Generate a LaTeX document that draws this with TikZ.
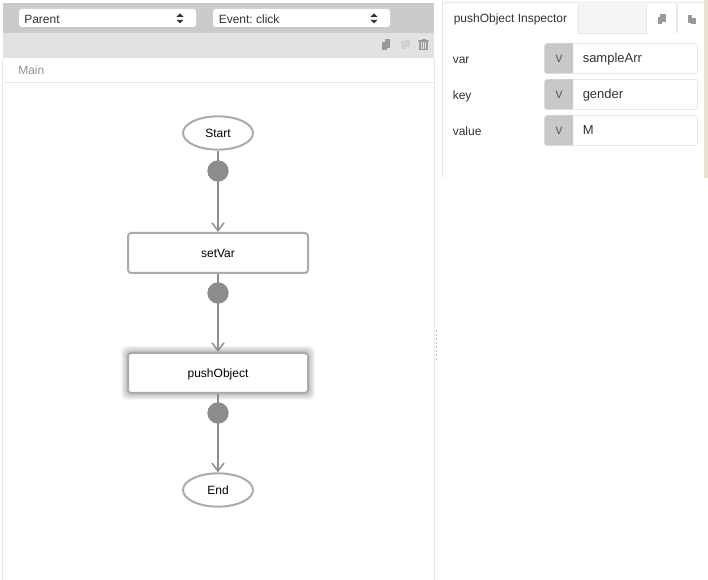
\documentclass[tikz,border=0pt]{standalone}
\usepackage{fontspec}
\setmainfont{Liberation Sans}
\frenchspacing
\usetikzlibrary{arrows.meta,shapes.geometric}
\definecolor{barA}{HTML}{CBCBCB}
\definecolor{barB}{HTML}{E2E2E2}
\definecolor{edgeL}{HTML}{E8E8E8}
\definecolor{flow}{HTML}{8E8E8E}
\definecolor{nodeL}{HTML}{ABABAB}
\definecolor{dotc}{HTML}{8C8C8C}
\definecolor{txtc}{HTML}{333333}
\definecolor{vbox}{HTML}{C8C8C8}
\definecolor{beige}{HTML}{E7E1D0}
\definecolor{iconc}{HTML}{999999}
\tikzset{
  x=0.75pt,y=-0.75pt,
  every node/.style={font=\fontsize{9}{11}\selectfont,text=txtc,inner sep=0pt,text height=8pt,text depth=1.8pt},
  selbox/.style={fill=white,rounded corners=2pt,draw=none},
  flowbox/.style={draw=nodeL,line width=1.5pt,fill=white,rounded corners=2.4pt,minimum width=135pt,minimum height=30pt,text=black},
  flowoval/.style={ellipse,draw=nodeL,line width=1.5pt,fill=white,minimum width=52.5pt,minimum height=25pt,text=black},
  dotn/.style={circle,fill=dotc,minimum size=16pt,text height=,text depth=},
  flowline/.style={draw=flow,line width=1.4pt,-{Straight Barb[length=6pt,width=9pt,line width=1.1pt]}},
  fieldbox/.style={draw=edgeL,line width=0.6pt,fill=white,rounded corners=2pt},
  lab/.style={anchor=west},
}
\begin{document}
\begin{tikzpicture}
\useasboundingbox (0,0) rectangle (708,580);
\fill[white] (0,0) rectangle (708,580);
% left panel
\fill[barA] (3,3) rectangle (434,33);
\fill[barB] (3,33) rectangle (434,58);
\draw[edgeL,line width=0.75pt] (3,82.5) -- (434,82.5);
\draw[edgeL,line width=0.9pt] (2.5,58) -- (2.5,580);
\draw[edgeL,line width=0.75pt] (434.5,58) -- (434.5,580);
% selects
\fill[selbox] (19,9) rectangle (196,27);
\fill[selbox] (213,9) rectangle (390,27);
\node[lab] (parent) at (24,19) {Parent};
\node[lab] (event) at (218.5,19) {Event: click};
\foreach \cx in {180,374}{
  \fill[black!80] (\cx-3.5,17) -- (\cx+3.5,17) -- (\cx,13.5) -- cycle;
  \fill[black!80] (\cx-3.5,20) -- (\cx+3.5,20) -- (\cx,23.5) -- cycle;
}
% toolbar icons
\fill[iconc] (381.5,42) rectangle (387,50);
\fill[iconc] (385,39.5) rectangle (390,48);
\fill[black!18] (401,41.5) rectangle (406,49.5);
\fill[black!18] (404,40) rectangle (409.5,47);
\fill[iconc] (419,41.5) rectangle (428,50);
\fill[iconc] (418,40) rectangle (429,41);
\fill[iconc] (421.5,39) rectangle (425.5,40);
\draw[barB,line width=0.4pt] (421.5,42.5) -- (421.5,49) (423.5,42.5) -- (423.5,49) (425.5,42.5) -- (425.5,49);
\node[lab,text=black!42] (mainlab) at (18,70) {Main};
% splitter dots
\foreach \yy in {330,334,...,358}{\fill[black!25] (436.3,\yy) rectangle (437.3,\yy+2);}
% flow nodes
\node[flowoval] (start) at (218,133) {Start};
\node[flowbox] (setvar) at (218,253) {setVar};
% glow
\foreach \g in {7,6,5,4,3,2,1}{
  \fill[black,opacity=0.04,rounded corners=4pt] (128-\g,353-\g) rectangle (308+\g,393+\g);
}
\node[flowbox] (pushobj) at (218,373) {pushObject};
\node[flowoval] (endn) at (218,490) {End};
\draw[flowline] (start) -- (setvar);
\draw[flowline] (setvar) -- (pushobj);
\draw[flowline] (pushobj) -- (endn);
\node[dotn] (d1) at (218,171) {};
\node[dotn] (d2) at (218,293) {};
\node[dotn] (d3) at (218,413) {};
% inspector
\fill[beige] (704,0) rectangle (708,178);
\fill[black!4] (443,1) rectangle (704,33);
\draw[edgeL,line width=0.75pt] (442.5,0) -- (442.5,178);
\fill[white] (443,4) rectangle (578,33);
\fill[white] (647,4) rectangle (676,33);
\fill[white] (678,4) rectangle (704,33);
\fill[white] (443,33) rectangle (704,178);
\draw[edgeL,line width=0.6pt] (578.5,4) -- (578.5,33) -- (646.5,33) -- (646.5,4);
\draw[edgeL,line width=0.6pt] (676.5,4) -- (676.5,33) (677.5,4) -- (677.5,33);
\node[lab] (title) at (453.5,18) {pushObject Inspector};
\fill[iconc] (657.5,17) rectangle (662,24);
\fill[iconc] (660,14.5) rectangle (665.5,22);
\fill[iconc] (688,15) rectangle (692,23);
\fill[iconc] (691,18) rectangle (696,24);
% fields
\node[lab] (lvar) at (452.5,59) {var};
\node[lab] (lkey) at (452.5,95) {key};
\node[lab] (lval) at (452.5,131) {value};
\foreach \top/\txt/\nm in {43.5/sampleArr/a,79.5/gender/b,115.5/M/c}{
  \draw[fieldbox] (544.5,\top) rectangle (697.5,\top+30);
  \fill[vbox,rounded corners=2pt] (544.5,\top) rectangle (573,\top+30);
  \fill[vbox] (566,\top) rectangle (573,\top+30);
  \node[text=black!60,font=\fontsize{10.5}{11}\selectfont] (v\nm) at (559,\top+15) {v};
  \node[lab,font=\fontsize{9.75}{11}\selectfont] (t\nm) at (582.5,\top+15) {\txt};
}
\end{tikzpicture}
\end{document}
